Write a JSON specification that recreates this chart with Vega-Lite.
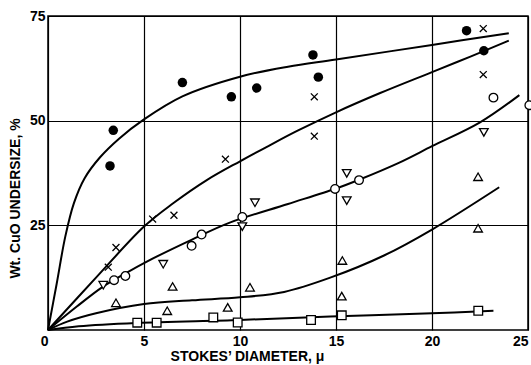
{
  "$schema": "https://vega.github.io/schema/vega-lite/v6.json",
  "width": 480,
  "height": 314,
  "autosize": {"type": "none"},
  "padding": {"left": 48, "top": 16, "right": 3, "bottom": 35},
  "background": "white",
  "datasets": {
    "curves": [
      {"curve": "A", "x": 0, "y": 0}, {"curve": "A", "x": 0.45, "y": 11.0}, {"curve": "A", "x": 0.9, "y": 22.3},
      {"curve": "A", "x": 1.35, "y": 30.3}, {"curve": "A", "x": 1.9, "y": 36.2}, {"curve": "A", "x": 2.7, "y": 41.2},
      {"curve": "A", "x": 3.7, "y": 45.7}, {"curve": "A", "x": 5, "y": 50.3},
      {"curve": "A", "x": 7, "y": 55.8}, {"curve": "A", "x": 10, "y": 60.5}, {"curve": "A", "x": 12.5, "y": 62.9},
      {"curve": "A", "x": 15, "y": 64.6}, {"curve": "A", "x": 20, "y": 68.1}, {"curve": "A", "x": 24, "y": 70.9},

      {"curve": "B", "x": 0, "y": 0}, {"curve": "B", "x": 2.5, "y": 12.5}, {"curve": "B", "x": 5, "y": 24.7},
      {"curve": "B", "x": 6.5, "y": 30.2}, {"curve": "B", "x": 8.27, "y": 35.8}, {"curve": "B", "x": 10, "y": 40.3},
      {"curve": "B", "x": 11.5, "y": 44.0}, {"curve": "B", "x": 13, "y": 47.6}, {"curve": "B", "x": 15, "y": 52.0},
      {"curve": "B", "x": 17.3, "y": 56.6}, {"curve": "B", "x": 20, "y": 61.6}, {"curve": "B", "x": 22, "y": 65.3},
      {"curve": "B", "x": 24, "y": 69.1},

      {"curve": "C", "x": 0, "y": 0}, {"curve": "C", "x": 1.5, "y": 5.6}, {"curve": "C", "x": 2.85, "y": 10.3},
      {"curve": "C", "x": 4.06, "y": 13.6}, {"curve": "C", "x": 5, "y": 16.0}, {"curve": "C", "x": 7.5, "y": 21.6},
      {"curve": "C", "x": 9.5, "y": 25.7}, {"curve": "C", "x": 12.5, "y": 30.1}, {"curve": "C", "x": 15, "y": 33.8},
      {"curve": "C", "x": 16.2, "y": 35.9}, {"curve": "C", "x": 18.3, "y": 40.0}, {"curve": "C", "x": 20, "y": 43.9},
      {"curve": "C", "x": 22.5, "y": 49.6}, {"curve": "C", "x": 24.55, "y": 56.1},

      {"curve": "D", "x": 0, "y": 0}, {"curve": "D", "x": 1, "y": 2.0}, {"curve": "D", "x": 2.5, "y": 4.0},
      {"curve": "D", "x": 5, "y": 6.2}, {"curve": "D", "x": 7.5, "y": 7.1}, {"curve": "D", "x": 10, "y": 7.8},
      {"curve": "D", "x": 12.3, "y": 9.1}, {"curve": "D", "x": 14.7, "y": 12.5}, {"curve": "D", "x": 17.5, "y": 17.8},
      {"curve": "D", "x": 20, "y": 24.0}, {"curve": "D", "x": 23.5, "y": 34.1},

      {"curve": "E", "x": 0, "y": 0}, {"curve": "E", "x": 1.6, "y": 0.9}, {"curve": "E", "x": 4.6, "y": 1.7},
      {"curve": "E", "x": 10, "y": 2.4}, {"curve": "E", "x": 14.7, "y": 3.2}, {"curve": "E", "x": 20, "y": 4.0},
      {"curve": "E", "x": 23.2, "y": 4.6}
    ],
    "points": [
      {"marker": "filled", "x": 3.4, "y": 47.7}, {"marker": "filled", "x": 3.23, "y": 39.2},
      {"marker": "filled", "x": 7.0, "y": 59.1}, {"marker": "filled", "x": 9.55, "y": 55.7},
      {"marker": "filled", "x": 10.87, "y": 57.8}, {"marker": "filled", "x": 13.8, "y": 65.7},
      {"marker": "filled", "x": 14.08, "y": 60.4}, {"marker": "filled", "x": 21.8, "y": 71.5},
      {"marker": "filled", "x": 22.7, "y": 66.7},

      {"marker": "cross", "x": 3.14, "y": 15.0}, {"marker": "cross", "x": 3.54, "y": 19.7},
      {"marker": "cross", "x": 5.45, "y": 26.5}, {"marker": "cross", "x": 6.56, "y": 27.4},
      {"marker": "cross", "x": 9.24, "y": 40.8}, {"marker": "cross", "x": 13.87, "y": 55.7},
      {"marker": "cross", "x": 13.87, "y": 46.3}, {"marker": "cross", "x": 22.67, "y": 72.0},
      {"marker": "cross", "x": 22.67, "y": 61.0},

      {"marker": "open", "x": 3.44, "y": 11.9}, {"marker": "open", "x": 4.03, "y": 12.9},
      {"marker": "open", "x": 7.48, "y": 20.1}, {"marker": "open", "x": 8.0, "y": 22.8},
      {"marker": "open", "x": 10.12, "y": 27.0}, {"marker": "open", "x": 14.95, "y": 33.7},
      {"marker": "open", "x": 16.2, "y": 35.8}, {"marker": "open", "x": 23.2, "y": 55.5},
      {"marker": "open", "x": 25.07, "y": 53.7},

      {"marker": "down", "x": 2.88, "y": 10.7}, {"marker": "down", "x": 6.0, "y": 15.7},
      {"marker": "down", "x": 10.12, "y": 24.7}, {"marker": "down", "x": 10.78, "y": 30.4},
      {"marker": "down", "x": 15.56, "y": 37.4}, {"marker": "down", "x": 15.56, "y": 30.9},
      {"marker": "down", "x": 22.7, "y": 47.2},

      {"marker": "up", "x": 3.54, "y": 6.5}, {"marker": "up", "x": 6.21, "y": 4.6},
      {"marker": "up", "x": 6.49, "y": 10.4}, {"marker": "up", "x": 9.36, "y": 5.4},
      {"marker": "up", "x": 10.52, "y": 10.2}, {"marker": "up", "x": 15.33, "y": 16.6},
      {"marker": "up", "x": 15.3, "y": 8.1}, {"marker": "up", "x": 22.4, "y": 24.3},
      {"marker": "up", "x": 22.4, "y": 36.6},

      {"marker": "square", "x": 4.65, "y": 1.75}, {"marker": "square", "x": 5.66, "y": 1.75},
      {"marker": "square", "x": 8.61, "y": 3.0}, {"marker": "square", "x": 9.88, "y": 1.8},
      {"marker": "square", "x": 13.7, "y": 2.4}, {"marker": "square", "x": 15.3, "y": 3.5},
      {"marker": "square", "x": 22.41, "y": 4.6}
    ]
  },
  "encoding": {
    "x": {
      "field": "x", "type": "quantitative",
      "scale": {"domain": [0, 25], "nice": false},
      "axis": {
        "values": [0, 5, 10, 15, 20, 25],
        "title": "STOKES’ DIAMETER, μ",
        "titleX": 199, "titleY": 19, "titleBaseline": "top", "titleAnchor": null,
        "titleFont": "Liberation Sans", "titleFontSize": 14, "titleFontWeight": "bold", "titleColor": "black",
        "labelFont": "Liberation Sans", "labelFontSize": 14, "labelFontWeight": "bold", "labelColor": "black",
        "labelPadding": 4,
        "labelAlign": {"condition": {"test": "datum.value == 0 || datum.value == 25", "value": "right"}, "value": "center"},
        "labelFlush": false
      }
    },
    "y": {
      "field": "y", "type": "quantitative",
      "scale": {"domain": [0, 75], "nice": false},
      "axis": {
        "values": [25, 50, 75],
        "title": "Wt. CuO  UNDERSIZE, %",
        "titleX": -33, "titleY": 182, "titleAngle": -90, "titleAlign": "center", "titleBaseline": "middle", "titleAnchor": null,
        "titleFont": "Liberation Sans", "titleFontSize": 14, "titleFontWeight": "bold", "titleColor": "black",
        "labelFont": "Liberation Sans", "labelFontSize": 14, "labelFontWeight": "bold", "labelColor": "black",
        "labelPadding": 3
      }
    }
  },
  "layer": [
    {
      "data": {"name": "curves"},
      "mark": {"type": "line", "color": "black", "strokeWidth": 2, "interpolate": "catmull-rom"},
      "encoding": {"detail": {"field": "curve"}}
    },
    {
      "data": {"name": "points"},
      "transform": [{"filter": "datum.marker == 'filled'"}],
      "mark": {"type": "point", "shape": "circle", "filled": true, "color": "black", "opacity": 1, "size": 90, "clip": false}
    },
    {
      "data": {"name": "points"},
      "transform": [{"filter": "datum.marker != 'filled'"}],
      "mark": {"type": "point", "fill": "white", "fillOpacity": 1, "stroke": "black", "strokeWidth": 1.3, "opacity": 1, "size": 75, "clip": false},
      "encoding": {
        "shape": {
          "field": "marker", "type": "nominal", "legend": null,
          "scale": {
            "domain": ["open", "down", "up", "square", "cross"],
            "range": ["circle", "triangle-down", "triangle-up", "square", "M-0.8,-0.8L0.8,0.8M-0.8,0.8L0.8,-0.8"]
          }
        }
      }
    }
  ],
  "config": {
    "view": {"stroke": "black", "strokeWidth": 1.5},
    "axis": {
      "grid": true, "gridColor": "black", "gridWidth": 1.2, "gridOpacity": 1,
      "domain": false, "ticks": false
    }
  }
}
